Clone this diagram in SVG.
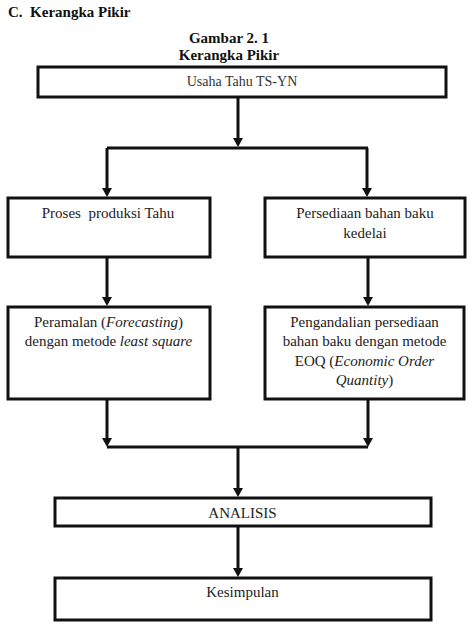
<svg xmlns="http://www.w3.org/2000/svg" width="474" height="639" viewBox="0 0 474 639">
<style>
.box{fill:#fff;stroke:#111;stroke-width:3}
.con{fill:none;stroke:#111;stroke-width:3}
.t{font-family:'Liberation Serif','DejaVu Serif',serif;font-size:15px;fill:#222;text-anchor:middle}
.h{font-family:'Liberation Serif','DejaVu Serif',serif;font-size:15px;font-weight:bold;fill:#111}
.i{font-style:italic}
</style>
<defs>
<marker id="ah" markerUnits="userSpaceOnUse" markerWidth="9" markerHeight="10" viewBox="0 0 9 10" refX="3" refY="5" orient="auto">
<path d="M0,0 L9,5 L0,10 z" fill="#111"/>
</marker>
</defs>
<text class="h" x="8" y="17" xml:space="preserve">C.  Kerangka Pikir</text>
<text class="h" x="229" y="43" text-anchor="middle">Gambar 2. 1</text>
<text class="h" x="229" y="60" text-anchor="middle">Kerangka Pikir</text>
<g id="connectors">
<path class="con" d="M238,98 V141" marker-end="url(#ah)"/>
<path class="con" d="M107,148 H368"/>
<path class="con" d="M107,148 V191" marker-end="url(#ah)"/>
<path class="con" d="M367,148 V191" marker-end="url(#ah)"/>
<path class="con" d="M107,258 V300" marker-end="url(#ah)"/>
<path class="con" d="M368,258 V300" marker-end="url(#ah)"/>
<path class="con" d="M107,400 V441" marker-end="url(#ah)"/>
<path class="con" d="M368,400 V441" marker-end="url(#ah)"/>
<path class="con" d="M107,447 H368"/>
<path class="con" d="M238,447 V491" marker-end="url(#ah)"/>
<path class="con" d="M238,527 V571" marker-end="url(#ah)"/>
</g>
<g id="usaha">
<rect class="box" x="38" y="67" width="408" height="30"/>
<text class="t" x="242" y="86" style="font-size:14px;fill:#333">Usaha Tahu TS-YN</text>
</g>
<g id="proses">
<rect class="box" x="8" y="198" width="202" height="59"/>
<text class="t" x="108" y="218" xml:space="preserve">Proses  produksi Tahu</text>
</g>
<g id="persediaan">
<rect class="box" x="265" y="198" width="200" height="59"/>
<text class="t" x="365" y="218">Persediaan bahan baku</text>
<text class="t" x="365" y="238">kedelai</text>
</g>
<g id="peramalan">
<rect class="box" x="8" y="307" width="202" height="92"/>
<text class="t" x="108.5" y="327">Peramalan (<tspan class="i">Forecasting</tspan>)</text>
<text class="t" x="108.5" y="346">dengan metode <tspan class="i">least square</tspan></text>
</g>
<g id="pengendalian">
<rect class="box" x="265" y="307" width="199" height="92"/>
<text class="t" x="364.5" y="327">Pengandalian persediaan</text>
<text class="t" x="364.5" y="346">bahan baku dengan metode</text>
<text class="t" x="364.5" y="366">EOQ (<tspan class="i">Economic Order</tspan></text>
<text class="t" x="364.5" y="385"><tspan class="i">Quantity</tspan>)</text>
</g>
<g id="analisis">
<rect class="box" x="55" y="498" width="376" height="28"/>
<text class="t" x="242.5" y="518">ANALISIS</text>
</g>
<g id="kesimpulan">
<rect class="box" x="55" y="578" width="376" height="42"/>
<text class="t" x="242.5" y="597">Kesimpulan</text>
</g>
</svg>
